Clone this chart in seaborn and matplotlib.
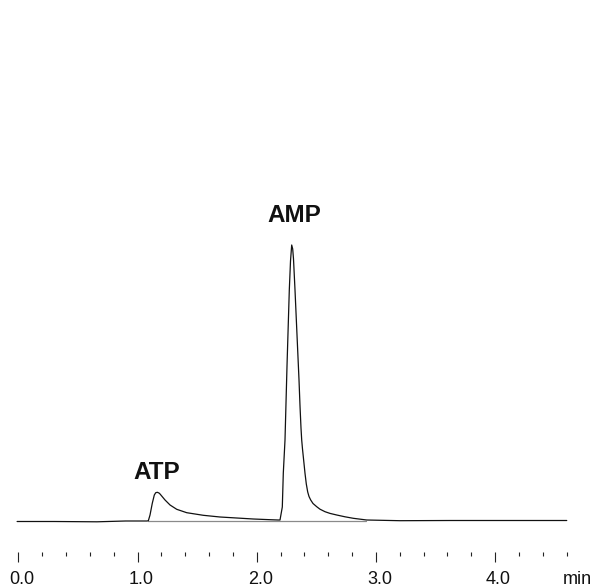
import matplotlib
matplotlib.use("Agg")
import matplotlib.pyplot as plt
from matplotlib.transforms import ScaledTranslation
import pandas as pd
import seaborn as sns

# Chromatogram trace: retention time (min) and detector signal (arbitrary units)
time_min = [-0.01, 0.30, 0.66, 0.90, 1.080,
            1.091, 1.105, 1.124, 1.141, 1.153, 1.166, 1.180, 1.189, 1.210, 1.231,
            1.273, 1.329, 1.413, 1.552, 1.692, 1.832, 1.971, 2.112, 2.181,
            2.1955, 2.2148, 2.2232, 2.2374, 2.2542, 2.2735, 2.2836, 2.2936,
            2.3020, 2.3087, 2.3213, 2.3381, 2.3549, 2.3633, 2.3716, 2.3775,
            2.3842, 2.3909, 2.4052, 2.4161, 2.4279, 2.4388, 2.4530, 2.4723,
            2.5034, 2.5310, 2.5730, 2.6149, 2.6711, 2.7408, 2.8104, 2.9228,
            3.202, 3.622, 4.041, 4.601]
signal = [-0.5, -0.5, -0.8, 0.0, 0.0,
          0.3, 6.0, 17.7, 26.0, 28.3, 28.7, 28.0, 27.0, 24.0, 21.0,
          16.0, 11.7, 8.3, 5.7, 4.0, 3.0, 2.0, 1.3, 1.0,
          1.0, 14.0, 48.0, 81.0, 155.0, 231.0, 260.0, 276.0,
          272.0, 262.0, 231.0, 186.0, 141.0, 115.0, 93.0, 81.0,
          72.0, 64.3, 47.7, 37.0, 29.0, 24.5, 21.0, 17.5,
          14.3, 11.8, 9.3, 7.6, 6.0, 4.2, 2.7, 1.0,
          0.3, 0.5, 0.5, 0.5]

# Integration baseline drawn under the two peaks
baseline_time = [1.09, 2.92]
baseline_signal = [0.0, 0.0]

# Peak names and where they are labelled
peak_names = ["ATP", "AMP"]
peak_label_time = [1.157, 2.319]
peak_label_signal = [41.7, 299.3]

# Time axis
major_ticks = [0.0, 1.0, 2.0, 3.0, 4.0]
major_labels = ["0.0", "1.0", "2.0", "3.0", "4.0"]
minor_ticks = [0.2, 0.4, 0.6, 0.8, 1.2, 1.4, 1.6, 1.8, 2.2, 2.4, 2.6, 2.8,
               3.2, 3.4, 3.6, 3.8, 4.2, 4.4, 4.6]
unit_label = "min"

sns.set_theme(style="white")
plt.rcParams["font.family"] = ["Liberation Sans", "DejaVu Sans"]

fig = plt.figure(figsize=(5.95, 5.88), dpi=100)
ax = fig.add_axes([0, 0, 1, 1])

trace = pd.DataFrame({"time": time_min, "signal": signal})
base = pd.DataFrame({"time": baseline_time, "signal": baseline_signal})

sns.lineplot(data=base, x="time", y="signal", ax=ax, color="#8a8a8a",
             linewidth=0.9, sort=False, estimator=None)
sns.lineplot(data=trace, x="time", y="signal", ax=ax, color="#111111",
             linewidth=0.9, sort=False, estimator=None)

for name, t, s in zip(peak_names, peak_label_time, peak_label_signal):
    ax.text(t, s, name, ha="center", va="baseline", fontsize=17.5,
            fontweight="bold", color="#111111")

ax.set_xlim(-0.1535, 4.838)
ax.set_ylim(-67, 521)

for side in ["left", "right", "top"]:
    ax.spines[side].set_visible(False)
ax.spines["bottom"].set_position(("data", -31))
ax.spines["bottom"].set_visible(False)

ax.set_yticks([])
ax.set_xticks(major_ticks)
ax.set_xticklabels(major_labels)
ax.set_xticks(minor_ticks, minor=True)
ax.tick_params(axis="x", which="major", direction="out", length=7.2,
               width=0.8, color="#222222", labelsize=13, pad=6.7,
               labelcolor="#111111", bottom=True)
ax.tick_params(axis="x", which="minor", direction="out", length=3.2,
               width=0.8, color="#222222", bottom=True)
shift = ScaledTranslation(3.5 / 100, 0, fig.dpi_scale_trans)
for lab in ax.get_xticklabels():
    lab.set_transform(lab.get_transform() + shift)

ax.text(4.687, -63.3, unit_label, ha="center", va="baseline", fontsize=13,
        color="#111111")

ax.set_xlabel("")
ax.set_ylabel("")
ax.grid(False)

fig.savefig("out.png", dpi=100)
